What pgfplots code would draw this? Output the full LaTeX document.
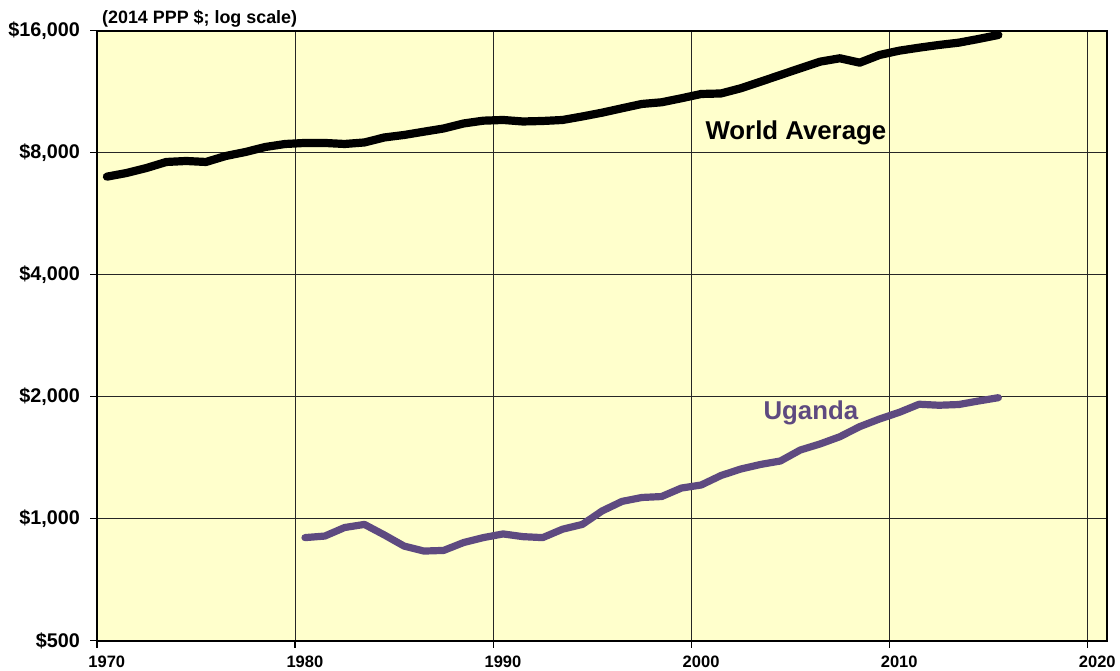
\documentclass[border=0pt]{standalone}
\usepackage{fontspec}
\setmainfont{Liberation Sans}
\usepackage{pgfplots}
\pgfplotsset{compat=1.18}
\definecolor{bgyellow}{HTML}{FFFFCC}
\definecolor{ugpurple}{HTML}{5E4A80}
\begin{document}
\begin{tikzpicture}
\useasboundingbox (0,0) rectangle (560bp,335.5bp);
\begin{axis}[
  scale only axis,
  width=505.15bp, height=305bp,
  at={(48.5bp,15.15bp)}, anchor=south west,
  xmin=1970, xmax=2021,
  ymode=log, ymin=500, ymax=16000,
  axis background/.style={fill=bgyellow},
  axis line style={line width=1bp, black},
  xtick={1970,1980,1990,2000,2010,2020},
  xticklabels={1970,1980,1990,2000,2010,2020},
  ytick={500,1000,2000,4000,8000,16000},
  yticklabels={\$500,{\$1,000},{\$2,000},{\$4,000},{\$8,000},{\$16,000}},
  minor ytick={},
  xtick pos=bottom, ytick pos=left,
  tick align=outside,
  major tick length=3.5bp,
  tick style={line width=0.6bp, black},
  grid=major,
  major grid style={line width=0.5bp, black!85},
  xticklabel style={font=\fontsize{8.25bp}{10bp}\selectfont\bfseries, yshift=-0.5bp, xshift=4.9bp},
  yticklabel style={font=\fontsize{9.9bp}{12bp}\selectfont\bfseries, xshift=-1.5bp},
  clip=false,
]
\addplot[black, line width=4.1bp, line cap=round, line join=round] coordinates {
(1970.5,6981) (1971.5,7129) (1972.5,7334) (1973.5,7589) (1974.5,7632)
(1975.5,7589) (1976.5,7852) (1977.5,8032) (1978.5,8263) (1979.5,8405)
(1980.5,8454) (1981.5,8454) (1982.5,8405) (1983.5,8478) (1984.5,8722)
(1985.5,8846) (1986.5,9013) (1987.5,9179) (1988.5,9443) (1989.5,9595)
(1990.5,9633) (1991.5,9551) (1992.5,9578) (1993.5,9633) (1994.5,9827)
(1995.5,10042) (1996.5,10295) (1997.5,10550) (1998.5,10652) (1999.5,10898)
(2000.5,11166) (2001.5,11199) (2002.5,11535) (2003.5,11975) (2004.5,12440)
(2005.5,12922) (2006.5,13416) (2007.5,13678) (2008.5,13340) (2009.5,13936)
(2010.5,14282) (2011.5,14527) (2012.5,14752) (2013.5,14946) (2014.5,15264)
(2015.5,15614)
};
\addplot[ugpurple, line width=3.6bp, line cap=round, line join=round] coordinates {
(1980.5,898) (1981.5,906) (1982.5,951) (1983.5,968) (1984.5,912)
(1985.5,856) (1986.5,832) (1987.5,835) (1988.5,873) (1989.5,898)
(1990.5,917) (1991.5,903) (1992.5,898) (1993.5,942) (1994.5,968)
(1995.5,1045) (1996.5,1103) (1997.5,1128) (1998.5,1134) (1999.5,1190)
(2000.5,1211) (2001.5,1278) (2002.5,1326) (2003.5,1361) (2004.5,1388)
(2005.5,1477) (2006.5,1529) (2007.5,1593) (2008.5,1687) (2009.5,1762)
(2010.5,1830) (2011.5,1916) (2012.5,1905) (2013.5,1913) (2014.5,1952)
(2015.5,1989)
};
\node[anchor=base west, inner sep=0pt, font=\fontsize{12.9bp}{15bp}\selectfont\bfseries] at (axis cs:2000.7,8598) {World Average};
\node[anchor=base west, inner sep=0pt, text=ugpurple, font=\fontsize{12.9bp}{15bp}\selectfont\bfseries] at (axis cs:2003.63,1752) {Uganda};
\node[anchor=base west, inner sep=0pt, font=\fontsize{8.95bp}{11bp}\selectfont\bfseries] at (rel axis cs:0.0047,1.0121) {(2014 PPP \$; log scale)};
\end{axis}
\end{tikzpicture}
\end{document}
